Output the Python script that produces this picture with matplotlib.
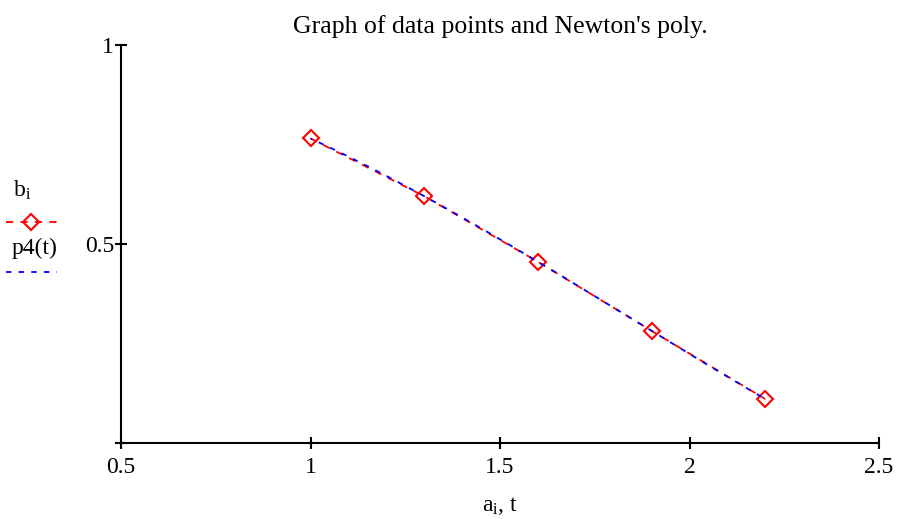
import numpy as np
import matplotlib.pyplot as plt
from matplotlib.lines import Line2D

plt.rcParams['font.family'] = ['Liberation Serif', 'DejaVu Serif']
plt.rcParams['mathtext.fontset'] = 'custom'
plt.rcParams['mathtext.rm'] = 'Liberation Serif'
plt.rcParams['mathtext.it'] = 'Liberation Serif'

# data points
a = [1.0, 1.3, 1.6, 1.9, 2.2]
b = [0.7652, 0.6201, 0.4554, 0.2818, 0.1104]

x_ticks = [0.5, 1, 1.5, 2, 2.5]
x_labels = ['0.5', '1', '1.5', '2', '2.5']
y_ticks = [0, 0.5, 1]
y_labels = ['', '0.5', '1']


def divided_diff(x, y):
    n = len(x)
    coef = list(y)
    for j in range(1, n):
        for i in range(n - 1, j - 1, -1):
            coef[i] = (coef[i] - coef[i - 1]) / (x[i] - x[i - j])
    return coef


def p4(t, x, coef):
    res = np.full_like(t, coef[-1])
    for k in range(len(coef) - 2, -1, -1):
        res = res * (t - x[k]) + coef[k]
    return res


coef = divided_diff(a, b)
t = np.linspace(a[0], a[-1], 200)

fs = 17

fig = plt.figure(figsize=(8.99, 5.19), dpi=100)
ax = fig.add_axes([121 / 899, 1 - 443 / 519, (879 - 121) / 899, (443 - 45) / 519])

ax.plot(a, b, color='red', linestyle=(0, (4, 4)), linewidth=1.3,
        marker='D', markersize=8, markerfacecolor='none',
        markeredgecolor='red', markeredgewidth=1.5, zorder=3)
ax.plot(t, p4(t, a, coef), color='blue', linestyle=(2, (3, 4)), linewidth=1.3, zorder=4)

ax.set_xlim(0.5, 2.5)
ax.set_ylim(0, 1)
ax.spines['top'].set_visible(False)
ax.spines['right'].set_visible(False)
ax.spines['left'].set_linewidth(1.5)
ax.spines['bottom'].set_linewidth(1.5)
ax.set_xticks(x_ticks)
ax.set_xticklabels(x_labels)
ax.set_yticks(y_ticks)
ax.set_yticklabels(y_labels)
ax.tick_params(direction='inout', length=8, width=1.5, labelsize=fs, pad=1)
ax.tick_params(axis='x', pad=6)

ax.set_title("Graph of data points and Newton's poly.", fontsize=18.5, pad=9)
ax.set_xlabel(r'$\mathrm{a_i}$, t', fontsize=fs, labelpad=12)

# legend on the left, label above sample line
fig.text(13 / 899, 1 - 190 / 519, r'$\mathrm{b_i}$', fontsize=fs, ha='left', va='center')
fig.add_artist(Line2D([6 / 899, 57 / 899], [1 - 222 / 519] * 2, color='red',
                      linestyle=(0, (4, 4)), linewidth=1.3))
fig.add_artist(Line2D([31 / 899], [1 - 222 / 519], color='red', marker='D', markersize=8,
                      markerfacecolor='none', markeredgecolor='red', markeredgewidth=1.5))
fig.text(12 / 899, 1 - 248 / 519, 'p4(t)', fontsize=fs, ha='left', va='center')
fig.add_artist(Line2D([6 / 899, 57 / 899], [1 - 272 / 519] * 2, color='blue',
                      linestyle=(0, (3, 4)), linewidth=1.3))

fig.savefig('out.png', dpi=100)
